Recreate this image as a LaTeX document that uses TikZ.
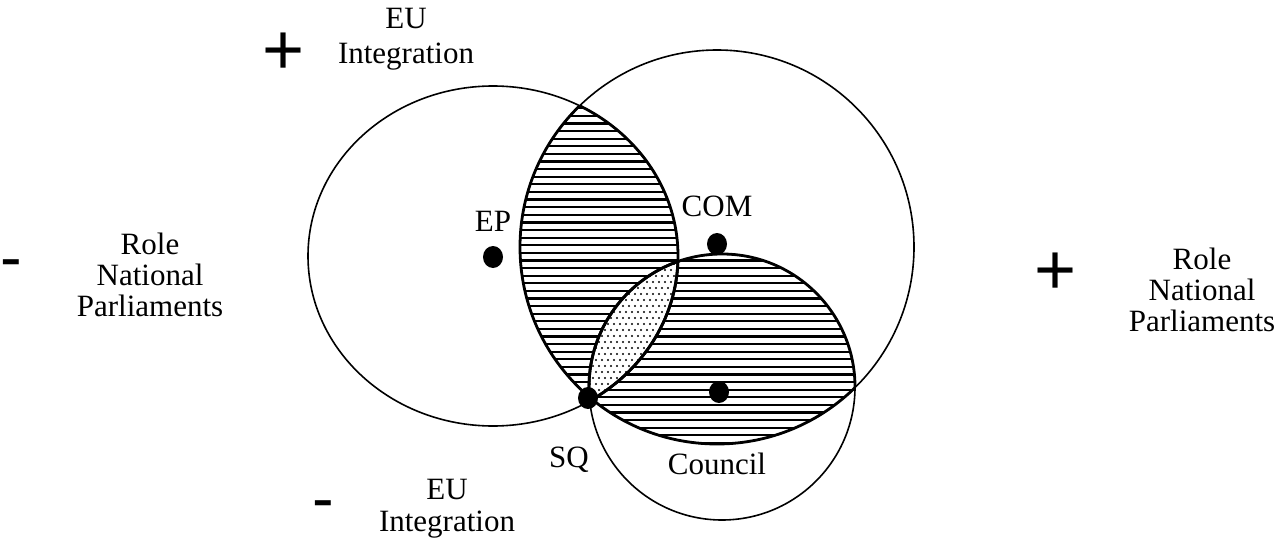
\documentclass[tikz,border=0pt]{standalone}
\usepackage{fontspec}
\usetikzlibrary{shapes.geometric}
\setmainfont{Liberation Serif}
\newfontfamily\signfont{Liberation Sans}

% the three sets
\newcommand{\epshape}{(493,256) ellipse [x radius=185pt, y radius=170pt]}
\newcommand{\comshape}{(717,247) circle [radius=197pt]}
\newcommand{\councilshape}{(722,387) circle [radius=133pt]}

\begin{document}
\begin{tikzpicture}[x=1pt, y=-1pt,
  lbl/.style={font=\fontsize{31}{35}\selectfont, align=center, inner sep=0pt},
  tight/.style={font=\fontsize{31}{31}\selectfont},
  sign/.style={font=\signfont\fontsize{72}{72}\selectfont, inner sep=0pt, anchor=base},
  minus/.style={sign, font=\signfont\fontsize{65}{65}\selectfont},
  dot/.style={ellipse, fill=black, inner sep=0pt, minimum width=20pt, minimum height=22pt},
  outline/.style={line width=1.6pt},
  edge/.style={line width=2.8pt},
  hatch/.style={line width=2.2pt}
]
  \useasboundingbox (0,0) rectangle (1274,540);

  % hatched areas
  \begin{scope}
    \clip \comshape;
    \begin{scope}
      \clip \epshape;
      \foreach \y in {40,47.6,...,460} \draw[hatch] (280,\y) -- (940,\y);
    \end{scope}
    \begin{scope}
      \clip \councilshape;
      \foreach \y in {40,47.6,...,460} \draw[hatch] (280,\y) -- (940,\y);
    \end{scope}
  \end{scope}

  % dotted lens
  \begin{scope}
    \clip \epshape;
    \clip \councilshape;
    \fill[white] (560,240) rectangle (700,420);
    \foreach \r in {0,...,30}
      \foreach \c in {0,...,24}
        \fill ({560+\c*6+mod(\r,2)*3},{240+\r*6}) circle [radius=1.1pt];
  \end{scope}

  % outlines
  \draw[outline] \epshape;
  \draw[outline] \comshape;
  \draw[outline] \councilshape;

  % heavier borders of the shaded parts
  \begin{scope}
    \clip \comshape;
    \draw[edge] \epshape;
    \draw[edge] \councilshape;
  \end{scope}
  \begin{scope}
    \clip \epshape;
    \draw[edge] \comshape;
    \draw[edge] \councilshape;
  \end{scope}
  \begin{scope}
    \clip \councilshape;
    \draw[edge] \comshape;
    \draw[edge] \epshape;
  \end{scope}

  % positions
  \node[dot] (epdot) at (493,257) {};
  \node[dot] (comdot) at (717,244) {};
  \node[dot] (councildot) at (719,392) {};
  \node[dot] (sqdot) at (588,398) {};

  \node[lbl, anchor=base] (ep) at (493,232) {EP};
  \node[lbl, anchor=base] (com) at (717,217) {COM};
  \node[lbl, anchor=base] (sq) at (569,467) {SQ};
  \node[lbl, anchor=base] (council) at (717,474) {Council};

  % axes
  \node[sign] (intplus) at (284,75) {+};
  \node[lbl] (inttop) at (406,39) {EU\\Integration};
  \node[minus] (intminus) at (323,520) {-};
  \node[lbl, font=\fontsize{31}{32}\selectfont] (intbot) at (447,509) {EU\\Integration};
  \node[minus] (natminus) at (11,279) {-};
  \node[lbl, tight] (natleft) at (150,275) {Role\\National\\Parliaments};
  \node[sign] (natplus) at (1056,294) {+};
  \node[lbl, tight] (natright) at (1202,290) {Role\\National\\Parliaments};
\end{tikzpicture}
\end{document}
